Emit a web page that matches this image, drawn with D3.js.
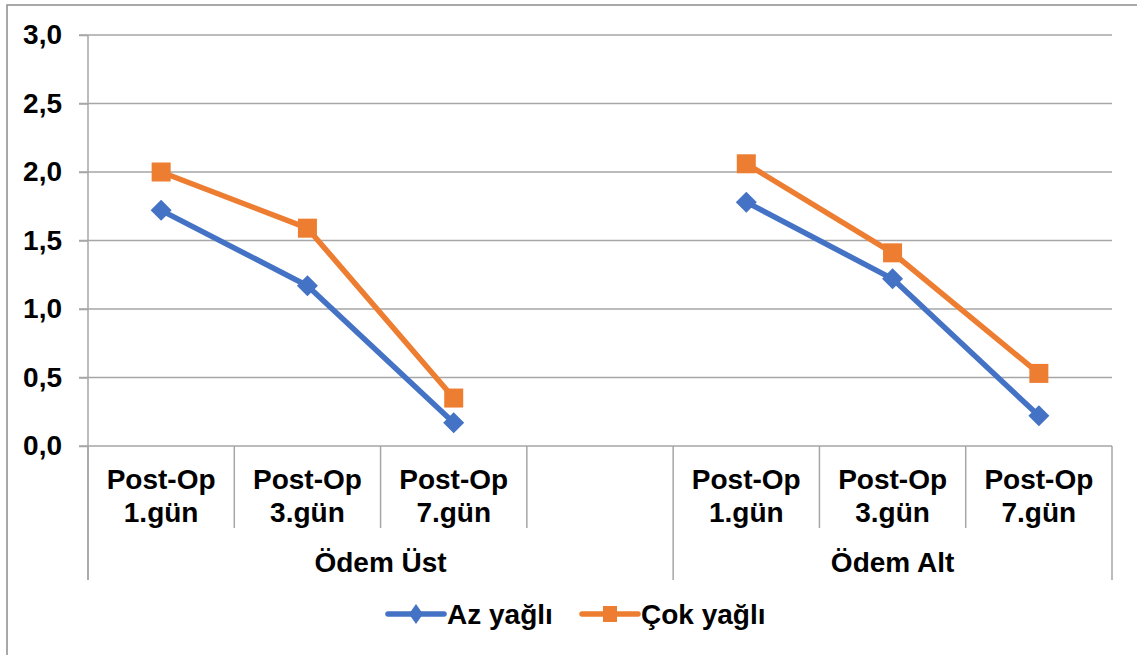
<!DOCTYPE html>
<html>
<head>
<meta charset="utf-8">
<script src="https://cdn.jsdelivr.net/npm/d3@7"></script>
<style>
  html, body { margin: 0; padding: 0; background: #fff; }
  svg { display: block; }
  text { font-family: "Liberation Sans", Arial, sans-serif; font-weight: bold; fill: #000; }
</style>
</head>
<body>
<svg id="chart" width="1137" height="655"></svg>
<script>
// ---- Data ----
const categories = ["Post-Op|1.gün", "Post-Op|3.gün", "Post-Op|7.gün", "", "Post-Op|1.gün", "Post-Op|3.gün", "Post-Op|7.gün"];
const groupNames = ["Ödem Üst", "Ödem Alt"];
const groupStarts = [0, 4];
const groupEnds = [4, 7];
const azYagli = [1.72, 1.17, 0.17, null, 1.78, 1.22, 0.22];
const cokYagli = [2.00, 1.59, 0.35, null, 2.06, 1.41, 0.53];
const yTicks = [0, 0.5, 1.0, 1.5, 2.0, 2.5, 3.0];
const seriesNames = ["Az yağlı", "Çok yağlı"];

// ---- Layout ----
const W = 1137, H = 655;
const mLeft = 88, mRight = 1112, mTop = 35, mBottom = 446;
const gridColor = "#a6a6a6";
const blue = "#4472C4", orange = "#ED7D31";
const fs = 28;

const svg = d3.select("#chart");

// outer border
svg.append("rect").attr("x", 7).attr("y", 5).attr("width", W + 10).attr("height", H + 10)
  .attr("fill", "none").attr("stroke", "#8c8c8c").attr("stroke-width", 1.5);

const x = d3.scaleBand().domain(d3.range(categories.length)).range([mLeft, mRight]).padding(0);
const y = d3.scaleLinear().domain([0, 3]).range([mBottom, mTop]);

const locale = d3.formatLocale({ decimal: ",", thousands: ".", grouping: [3], currency: ["", ""] });
const fmt = locale.format(".1f");

// gridlines
svg.append("g").selectAll("line").data(yTicks.filter(d => d > 0)).join("line")
  .attr("x1", mLeft - 9).attr("x2", mRight)
  .attr("y1", d => y(d)).attr("y2", d => y(d))
  .attr("stroke", gridColor).attr("stroke-width", 1.5);

// y axis
const yAxis = d3.axisLeft(y).tickValues(yTicks).tickFormat(fmt).tickSize(9).tickPadding(17);
const gy = svg.append("g").attr("transform", `translate(${mLeft},0)`).call(yAxis);
gy.select(".domain").remove();
gy.selectAll(".tick line").attr("stroke", gridColor).attr("stroke-width", 1.5);
gy.selectAll(".tick text").style("font-size", fs + "px").style("font-family", '"Liberation Sans", Arial, sans-serif')
  .style("font-weight", "bold").attr("fill", "#000");

// vertical axis line (extends into the category area)
svg.append("line").attr("x1", mLeft).attr("x2", mLeft).attr("y1", mTop).attr("y2", 580)
  .attr("stroke", gridColor).attr("stroke-width", 1.5);

// category axis baseline
svg.append("line").attr("x1", mLeft - 9).attr("x2", mRight).attr("y1", mBottom).attr("y2", mBottom)
  .attr("stroke", gridColor).attr("stroke-width", 1.5);

// category separators (short)
const shortSeps = [];
groupStarts.forEach((s, gi) => {
  for (let i = s + 1; i < groupEnds[gi]; i++) {
    if (categories[i - 1] !== "") shortSeps.push(i);
  }
});
svg.append("g").selectAll("line").data(shortSeps).join("line")
  .attr("x1", d => x(d)).attr("x2", d => x(d))
  .attr("y1", mBottom).attr("y2", 528)
  .attr("stroke", gridColor).attr("stroke-width", 1.5);

// group separators (long)
const longSeps = groupStarts.concat([groupEnds[groupEnds.length - 1]]);
svg.append("g").selectAll("line").data(longSeps).join("line")
  .attr("x1", d => d >= categories.length ? mRight : x(d)).attr("x2", d => d >= categories.length ? mRight : x(d))
  .attr("y1", mBottom).attr("y2", 580)
  .attr("stroke", gridColor).attr("stroke-width", 1.5);

// category labels
const catG = svg.append("g");
categories.forEach((c, i) => {
  if (!c) return;
  const parts = c.split("|");
  const t = catG.append("text").attr("text-anchor", "middle").style("font-size", fs + "px")
    .attr("x", x(i) + x.bandwidth() / 2).attr("y", 489);
  parts.forEach((p, j) => {
    t.append("tspan").attr("x", x(i) + x.bandwidth() / 2).attr("dy", j === 0 ? 0 : 33).text(p);
  });
});

// group labels
groupNames.forEach((g, gi) => {
  const x0 = x(groupStarts[gi]);
  const x1 = groupEnds[gi] >= categories.length ? mRight : x(groupEnds[gi]);
  svg.append("text").attr("text-anchor", "middle").style("font-size", fs + "px")
    .attr("x", (x0 + x1) / 2).attr("y", 572).text(g);
});

// lines
const cx = i => x(i) + x.bandwidth() / 2;
const lineGen = d3.line().defined(d => d != null).x((d, i) => cx(i)).y(d => y(d));

function drawSeries(data, color, shape) {
  svg.append("path").datum(data).attr("d", lineGen)
    .attr("fill", "none").attr("stroke", color).attr("stroke-width", 5.5).attr("stroke-linejoin", "round");
  const pts = data.map((d, i) => ({ d, i })).filter(o => o.d != null);
  if (shape === "diamond") {
    svg.append("g").selectAll("path").data(pts).join("path")
      .attr("d", o => { const px = cx(o.i), py = y(o.d), r = 10.5; return `M${px},${py - r}L${px + r},${py}L${px},${py + r}L${px - r},${py}Z`; })
      .attr("fill", color);
  } else {
    svg.append("g").selectAll("rect").data(pts).join("rect")
      .attr("x", o => cx(o.i) - 9.5).attr("y", o => y(o.d) - 9.5)
      .attr("width", 19).attr("height", 19).attr("fill", color);
  }
}
drawSeries(azYagli, blue, "diamond");
drawSeries(cokYagli, orange, "square");

// legend
const legY = 614;
const leg = [
  { name: seriesNames[0], color: blue, shape: "diamond", x0: 388 },
  { name: seriesNames[1], color: orange, shape: "square", x0: 582 }
];
leg.forEach(l => {
  svg.append("line").attr("x1", l.x0).attr("x2", l.x0 + 56).attr("y1", legY).attr("y2", legY)
    .attr("stroke", l.color).attr("stroke-width", 5.5).attr("stroke-linecap", "round");
  const mx = l.x0 + 28;
  if (l.shape === "diamond") {
    svg.append("path").attr("d", `M${mx},${legY - 10}L${mx + 7},${legY}L${mx},${legY + 10}L${mx - 7},${legY}Z`).attr("fill", l.color);
  } else {
    svg.append("rect").attr("x", mx - 7).attr("y", legY - 8).attr("width", 14).attr("height", 16).attr("fill", l.color);
  }
  svg.append("text").attr("x", l.x0 + 59).attr("y", legY + 10).style("font-size", fs + "px").text(l.name);
});
</script>
</body>
</html>
